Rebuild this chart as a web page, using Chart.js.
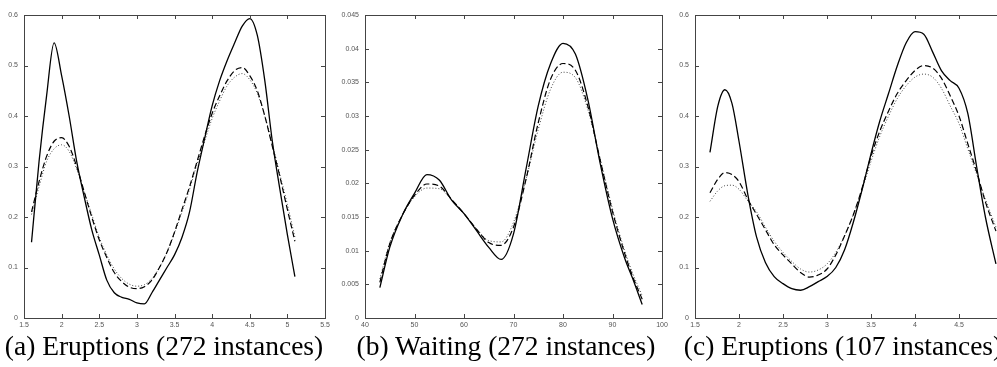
<!DOCTYPE html>
<html>
<head>
<meta charset="utf-8">
<script src="https://cdn.jsdelivr.net/npm/chart.js@4.4.1/dist/chart.umd.min.js"></script>
<style>
  body { margin: 0; width: 997px; height: 367px; overflow: hidden; background: #fff; position: relative; }
  .panel { position: absolute; top: 0; height: 330px; }
  .cap { position: absolute; top: 328px; height: 36px; line-height: 36px; text-align: center;
         font-family: "Liberation Serif", "DejaVu Serif", serif; font-size: 27.5px; color: #000; white-space: nowrap; }
</style>
</head>
<body>
<div class="panel" style="left:0;width:334px"><canvas id="chartA"></canvas></div>
<div class="panel" style="left:335px;width:340px"><canvas id="chartB"></canvas></div>
<div class="panel" style="left:665px;width:345px"><canvas id="chartC"></canvas></div>
<div class="cap" style="left:-16px;width:360px">(a) Eruptions (272 instances)</div>
<div class="cap" style="left:326px;width:360px">(b) Waiting (272 instances)</div>
<div class="cap" style="left:663px;width:360px">(c) Eruptions (107 instances)</div>
<script>
// (a) eruptions, 272 instances
var eruptX      = [1.6, 1.7, 1.8, 1.9, 2.0, 2.1, 2.2, 2.3, 2.4, 2.5, 2.6, 2.7, 2.8, 2.9, 3.0, 3.1, 3.2, 3.3, 3.4, 3.5, 3.6, 3.7, 3.8, 3.9, 4.0, 4.1, 4.2, 4.3, 4.4, 4.5, 4.6, 4.7, 4.8, 4.9, 5.0, 5.1];
var eruptSolid  = [0.15, 0.31, 0.44, 0.545, 0.48, 0.40, 0.31, 0.24, 0.175, 0.125, 0.075, 0.05, 0.041, 0.037, 0.03, 0.028, 0.05, 0.075, 0.1, 0.125, 0.16, 0.21, 0.288, 0.355, 0.42, 0.47, 0.51, 0.545, 0.578, 0.593, 0.56, 0.47, 0.35, 0.255, 0.165, 0.082];
var eruptDashed = [0.21, 0.27, 0.32, 0.35, 0.357, 0.34, 0.30, 0.25, 0.20, 0.155, 0.12, 0.09, 0.072, 0.061, 0.058, 0.062, 0.075, 0.1, 0.13, 0.17, 0.215, 0.26, 0.31, 0.36, 0.405, 0.44, 0.47, 0.49, 0.496, 0.48, 0.45, 0.40, 0.34, 0.28, 0.215, 0.152];
var eruptDotted = [0.205, 0.26, 0.31, 0.335, 0.343, 0.33, 0.295, 0.25, 0.205, 0.16, 0.125, 0.097, 0.078, 0.067, 0.063, 0.066, 0.078, 0.1, 0.13, 0.168, 0.21, 0.255, 0.305, 0.35, 0.395, 0.43, 0.46, 0.477, 0.484, 0.472, 0.445, 0.40, 0.345, 0.285, 0.225, 0.16];

// (b) waiting, 272 instances
var waitX      = [43, 45, 47.5, 50, 52.5, 55, 57.5, 60, 62.5, 65, 67.5, 70, 72.5, 75, 77.5, 80, 82.5, 85, 87.5, 90, 92.5, 94, 96];
var waitSolid  = [0.0045, 0.0105, 0.0152, 0.0185, 0.0213, 0.0205, 0.0175, 0.0155, 0.013, 0.0105, 0.0087, 0.0125, 0.022, 0.0315, 0.0378, 0.0408, 0.0392, 0.0325, 0.023, 0.0148, 0.0088, 0.006, 0.002];
var waitDashed = [0.0053, 0.011, 0.0152, 0.0182, 0.0199, 0.0196, 0.0176, 0.0155, 0.0132, 0.0112, 0.0108, 0.0135, 0.0205, 0.029, 0.0355, 0.0378, 0.0368, 0.0315, 0.0235, 0.0158, 0.0095, 0.0063, 0.0028];
var waitDotted = [0.0058, 0.0112, 0.0152, 0.018, 0.0193, 0.0192, 0.0176, 0.0155, 0.0133, 0.0115, 0.0113, 0.0142, 0.0205, 0.028, 0.034, 0.0365, 0.0357, 0.031, 0.0237, 0.0162, 0.0099, 0.0068, 0.0033];

// (c) eruptions, 107 instances
var subX      = [1.67, 1.76, 1.84, 1.92, 2.0, 2.1, 2.2, 2.3, 2.4, 2.5, 2.6, 2.7, 2.8, 2.9, 3.0, 3.1, 3.2, 3.3, 3.4, 3.5, 3.6, 3.7, 3.8, 3.9, 4.0, 4.1, 4.2, 4.3, 4.4, 4.5, 4.6, 4.7, 4.8, 4.92];
var subSolid  = [0.328, 0.42, 0.452, 0.425, 0.35, 0.245, 0.16, 0.11, 0.082, 0.068, 0.058, 0.055, 0.062, 0.072, 0.082, 0.1, 0.135, 0.19, 0.255, 0.325, 0.39, 0.445, 0.5, 0.545, 0.567, 0.562, 0.527, 0.49, 0.47, 0.455, 0.405, 0.30, 0.20, 0.107];
var subDashed = [0.248, 0.275, 0.288, 0.284, 0.27, 0.235, 0.205, 0.175, 0.145, 0.125, 0.107, 0.09, 0.081, 0.085, 0.097, 0.125, 0.163, 0.205, 0.258, 0.32, 0.37, 0.41, 0.445, 0.47, 0.49, 0.5, 0.495, 0.475, 0.44, 0.40, 0.345, 0.29, 0.23, 0.172];
var subDotted = [0.231, 0.252, 0.262, 0.263, 0.255, 0.232, 0.21, 0.18, 0.152, 0.13, 0.112, 0.097, 0.091, 0.095, 0.107, 0.13, 0.163, 0.205, 0.255, 0.31, 0.36, 0.40, 0.435, 0.46, 0.477, 0.483, 0.477, 0.455, 0.42, 0.385, 0.335, 0.285, 0.235, 0.18];

// box round the plot area plus inward ticks on all four sides (matlab look)
var boxTicks = {
    id: 'boxTicks',
    afterDraw: function(chart) {
        var ctx = chart.ctx, a = chart.chartArea, len = 4;
        var xs = chart.scales.x, ys = chart.scales.y;
        ctx.save();
        ctx.strokeStyle = '#444';
        ctx.lineWidth = 1;
        ctx.strokeRect(Math.round(a.left) + 0.5, Math.round(a.top) + 0.5, Math.round(a.right - a.left), Math.round(a.bottom - a.top));
        ctx.beginPath();
        xs.ticks.forEach(function(t) {
            var px = Math.round(xs.getPixelForValue(t.value)) + 0.5;
            ctx.moveTo(px, a.bottom); ctx.lineTo(px, a.bottom - len);
            ctx.moveTo(px, a.top); ctx.lineTo(px, a.top + len);
        });
        ys.ticks.forEach(function(t) {
            var py = Math.round(ys.getPixelForValue(t.value)) + 0.5;
            ctx.moveTo(a.left, py); ctx.lineTo(a.left + len, py);
            ctx.moveTo(a.right, py); ctx.lineTo(a.right - len, py);
        });
        ctx.stroke();
        ctx.restore();
    }
};

function lines(xs, solid, dashed, dotted) {
    var pts = function(v) { return v.map(function(y, i) { return {x: xs[i], y: y}; }); };
    var base = { showLine: true, pointRadius: 0, fill: false, cubicInterpolationMode: 'monotone' };
    return [
        Object.assign({}, base, { label: 'solid', data: pts(solid), borderColor: '#000', borderWidth: 1.3 }),
        Object.assign({}, base, { label: 'dashed', data: pts(dashed), borderColor: '#000', borderWidth: 1.2, borderDash: [6, 3] }),
        Object.assign({}, base, { label: 'dotted', data: pts(dotted), borderColor: '#444', borderWidth: 1, borderDash: [1, 2] })
    ];
}

var tickFont = { family: 'Liberation Sans, Arial, sans-serif', size: 7 };
var plain = function(v) { return String(Number(v.toFixed(4))); };

function makeChart(id, datasets, xr, yr, yWidth, rightPad) {
    return new Chart(document.getElementById(id), {
        type: 'scatter',
        data: { datasets: datasets },
        options: {
            responsive: true,
            maintainAspectRatio: false,
            animation: false,
            events: [],
            layout: { padding: { top: 15, right: rightPad, left: 0, bottom: 0 } },
            plugins: { legend: { display: false }, tooltip: { enabled: false } },
            scales: {
                x: {
                    type: 'linear', min: xr[0], max: xr[1],
                    ticks: { stepSize: xr[2], color: '#555', font: tickFont, padding: 3, maxRotation: 0, autoSkip: false, callback: plain },
                    grid: { display: false, drawTicks: false, tickLength: 0 }, border: { display: false },
                    afterFit: function(s) { s.height = 12; s.paddingLeft = 0; s.paddingRight = 0; }
                },
                y: {
                    type: 'linear', min: yr[0], max: yr[1],
                    ticks: { stepSize: yr[2], color: '#555', font: tickFont, padding: 6, autoSkip: false, callback: plain },
                    grid: { display: false, drawTicks: false, tickLength: 0 }, border: { display: false },
                    afterFit: function(s) { s.width = yWidth; s.paddingTop = 0; s.paddingBottom = 0; }
                }
            }
        },
        plugins: [boxTicks]
    });
}

makeChart('chartA', lines(eruptX, eruptSolid, eruptDashed, eruptDotted), [1.5, 5.5, 0.5], [0, 0.6, 0.1], 24, 9);
makeChart('chartB', lines(waitX, waitSolid, waitDashed, waitDotted), [40, 100, 10], [0, 0.045, 0.005], 30, 13);
makeChart('chartC', lines(subX, subSolid, subDashed, subDotted), [1.5, 5, 0.5], [0, 0.6, 0.1], 30, 7);
</script>
</body>
</html>
